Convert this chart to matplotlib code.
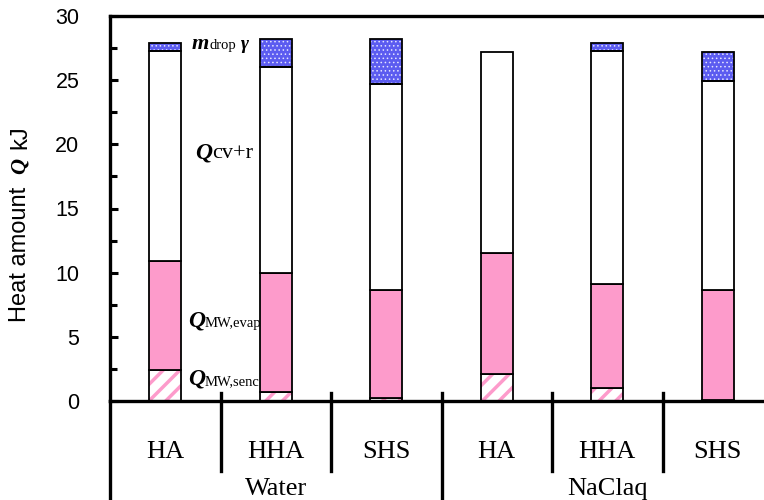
import numpy as np
import matplotlib.pyplot as plt
import matplotlib.transforms as mtransforms
from matplotlib.lines import Line2D

# heat amounts, kJ
groups = ["Water", "NaClaq"]
methods = ["HA", "HHA", "SHS", "HA", "HHA", "SHS"]
q_senc = [2.4, 0.7, 0.25, 2.1, 1.0, 0.05]
q_evap = [8.5, 9.25, 8.4, 9.4, 8.1, 8.6]
q_cvr = [16.4, 16.05, 16.05, 15.7, 18.2, 16.25]
m_drop = [0.6, 2.2, 3.5, 0.0, 0.6, 2.3]

pink = "#fd9bcb"
blue = "#5c5cf0"
serif = "Liberation Serif"

plt.rcParams['font.family'] = ['Liberation Sans', 'DejaVu Sans']

fig = plt.figure(figsize=(7.64, 5), dpi=100)
ax = fig.add_axes([110 / 764, 99 / 500, (773 - 110) / 764, 385 / 500])

x = np.arange(len(methods))
w = 0.29
senc = np.array(q_senc)
evap = np.array(q_evap)
cvr = np.array(q_cvr)
drop = np.array(m_drop)

plt.rcParams['hatch.linewidth'] = 2.5
ax.bar(x, senc, w, color="white", edgecolor=pink, hatch="//", linewidth=0, zorder=2)
ax.bar(x, senc, w, fill=False, edgecolor="black", linewidth=1.3, zorder=3)
ax.bar(x, evap, w, bottom=senc, color=pink, edgecolor="black", linewidth=1.3, zorder=3)
ax.bar(x, cvr, w, bottom=senc + evap, color="white", edgecolor="black", linewidth=1.3, zorder=3)
plt.rcParams['hatch.linewidth'] = 0.6
keep = drop > 0
ax.bar(x[keep], drop[keep], w, bottom=(senc + evap + cvr)[keep], color=blue,
       edgecolor="#e4e4ff", hatch="....", linewidth=0, zorder=2)
ax.bar(x[keep], drop[keep], w, bottom=(senc + evap + cvr)[keep], fill=False,
       edgecolor="black", linewidth=1.3, zorder=3)

ax.set_xlim(-0.5, 5.5)
ax.set_ylim(0, 30)
ax.set_yticks(np.arange(0, 31, 5))
ax.set_yticks(np.arange(2.5, 30, 5), minor=True)
ax.set_xticks([])
ax.tick_params(axis="y", which="both", direction="in", length=6, width=2.2,
               labelsize=15.5, pad=22)
ax.tick_params(axis="y", which="minor", length=5)
ax.spines["right"].set_visible(False)
for s in ["left", "top", "bottom"]:
    ax.spines[s].set_linewidth(2.4)
ax.spines["left"].set_bounds(0, 30)

# y label pieces
fig.text(20 / 764, 1 - 254 / 500, "Heat amount", rotation=90, fontsize=17,
         ha="center", va="center")
fig.text(20 / 764, 1 - 166 / 500, "Q", rotation=90, fontsize=16, ha="center",
         va="center", family=serif, style="italic", weight="bold")
fig.text(20 / 764, 1 - 137 / 500, "kJ", rotation=90, fontsize=17,
         ha="center", va="center")

# separators and lower axis extension
trans = ax.get_xaxis_transform()
ax.add_line(Line2D([-0.5, -0.5], [0, -0.27], transform=trans, color="black",
                   lw=2.4, clip_on=False))
for xs in [0.5, 1.5, 3.5, 4.5]:
    ax.add_line(Line2D([xs, xs], [0.021, -0.182], transform=trans, color="black",
                       lw=2.4, clip_on=False))
ax.add_line(Line2D([2.5, 2.5], [0.021, -0.27], transform=trans, color="black",
                   lw=2.4, clip_on=False))

for xi, m in zip(x, methods):
    ax.text(xi, -0.132, m, transform=trans, ha="center", va="center",
            fontsize=19, family=serif)
for gi, g in enumerate(groups):
    ax.text(gi * 3 + 1, -0.228, g, transform=trans, ha="center", va="center",
            fontsize=19, family=serif)

fig.canvas.draw()
renderer = fig.canvas.get_renderer()


def rich(xd, yd, parts):
    # parts: (text, size, style, weight)
    dx = 0.0
    for s, size, style, weight in parts:
        tr = mtransforms.offset_copy(ax.transData, fig=fig, x=dx, y=0, units="dots")
        t = ax.text(xd, yd, s, transform=tr, fontsize=size, style=style,
                    weight=weight, family=serif, ha="left", va="baseline")
        dx += t.get_window_extent(renderer).width


rich(0.242, 27.45, [("m", 16, "italic", "bold"), ("drop", 10.5, "normal", "normal"),
                    (" γ", 14, "italic", "bold")])
rich(0.27, 18.9, [("Q", 17, "italic", "bold"), ("cv+r", 16, "normal", "normal")])
rich(0.206, 5.8, [("Q", 17, "italic", "bold"), ("MW,evap", 10.5, "normal", "normal")])
rich(0.206, 1.25, [("Q", 17, "italic", "bold"), ("MW,senc", 10.5, "normal", "normal")])

fig.savefig("out.png", dpi=100)
